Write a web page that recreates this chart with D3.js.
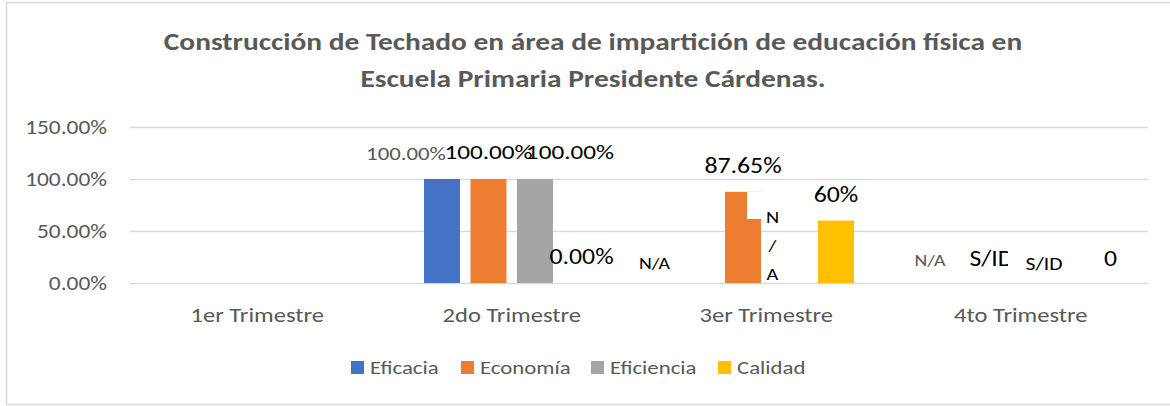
<!DOCTYPE html>
<html>
<head>
<meta charset="utf-8">
<script src="https://cdn.jsdelivr.net/npm/d3@7"></script>
<style>
  html, body { margin: 0; padding: 0; background: #fff; }
  svg { display: block; font-family: Calibri, Carlito, Lato, sans-serif; }
</style>
</head>
<body>
<svg id="chart" width="1170" height="406"></svg>
<script>
// Chart data
const titleLines = [
  "Construcción de Techado en área de impartición de educación física en",
  "Escuela Primaria Presidente Cárdenas."
];
const categories = ["1er Trimestre", "2do Trimestre", "3er Trimestre", "4to Trimestre"];
const seriesNames = ["Eficacia", "Economía", "Eficiencia", "Calidad"];
const eficacia   = [null, 1.00, null,   null];
const economia   = [null, 1.00, 0.8765, null];
const eficiencia = [null, 1.00, null,   null];
const calidad    = [null, 0.00, 0.60,   0.00];
const eficaciaLabels   = ["", "100.00%", "N/A",    "N/A"];
const economiaLabels   = ["", "100.00%", "87.65%", "S/ID"];
const eficienciaLabels = ["", "100.00%", "N/A",    "S/ID"];
const calidadLabels    = ["", "0.00%",   "60%",    "0"];
const yTicks = [0, 0.5, 1.0, 1.5];

const colors = ["#4472c4", "#ed7d31", "#a5a5a5", "#ffc000"];
const seriesValues = [eficacia, economia, eficiencia, calidad];
const seriesLabels = [eficaciaLabels, economiaLabels, eficienciaLabels, calidadLabels];

// Horizontal widening applied to every text (the face used is narrower than Calibri)
const textStretch = 1.2;

// Hand-placed data labels: offset from bar centre (dx) and baseline (y), font size, colour
const labelStyle = [
  [null, {dx: -36, y: 160, fs: 19, c: "#595959"}, {dx: -42, y: 269, fs: 16.5, c: "#000"}, {dx: -21, y: 266, fs: 16.5, c: "#595959"}],
  [null, {dx: 0,   y: 159, fs: 21, c: "#000"},    {dx: 0,   y: 173, fs: 21.5, c: "#000"}, {dx: -6, y: 266, fs: 21.5, c: "#000", clipRight: 1008}],
  [null, {dx: 35,  y: 159, fs: 21, c: "#000"},    {dx: -17, y: 223, fs: 17, c: "#000", stacked: true, box: {x0: 747, x1: 762, y0: 192, y1: 219}}, {dx: 0, y: 270, fs: 18, c: "#000"}],
  [null, {dx: 0,   y: 264, fs: 21.5, c: "#000"},  {dx: 0,   y: 202, fs: 21.5, c: "#000"}, {dx: 20, y: 266, fs: 21.5, c: "#000"}]
];

const svg = d3.select("#chart");
const gray = "#595959";
const grid = "#d9d9d9";

// Chart frame
svg.append("rect")
  .attr("x", 6.5).attr("y", 2.5)
  .attr("width", 1200).attr("height", 402)
  .attr("fill", "#fff").attr("stroke", grid).attr("stroke-width", 1.5);

// Title
svg.append("g").selectAll("text").data(titleLines).join("text")
  .attr("x", 593).attr("y", (d, i) => 50 + i * 37)
  .attr("text-anchor", "middle")
  .attr("font-size", 24.5).attr("font-weight", "bold")
  .attr("fill", gray)
  .text(d => d);

// Scales
const x = d3.scaleBand().domain(categories).range([130, 1148]);
const xs = d3.scaleBand().domain(seriesNames).range([-87.75, 87.75]).paddingInner(10.5 / 46.5);
const y = d3.scaleLinear().domain([0, 1.5]).range([283, 127]);

// Gridlines
svg.append("g").selectAll("line").data(yTicks).join("line")
  .attr("x1", 130).attr("x2", 1148)
  .attr("y1", d => Math.round(y(d)) + 0.5).attr("y2", d => Math.round(y(d)) + 0.5)
  .attr("stroke", grid).attr("stroke-width", 1.5);

// Y axis labels
const yAxis = svg.append("g")
  .attr("transform", "translate(107,0)")
  .call(d3.axisLeft(y).tickValues(yTicks).tickFormat(d3.format(".2%")).tickSize(0).tickPadding(0));
yAxis.select(".domain").remove();
yAxis.selectAll("text")
  .attr("font-family", "Calibri, Carlito, Lato, sans-serif")
  .attr("font-size", 19.5).attr("fill", gray);

// X axis labels
const xAxis = svg.append("g")
  .attr("transform", "translate(0,283)")
  .call(d3.axisBottom(x).tickSize(0).tickPadding(24));
xAxis.select(".domain").remove();
xAxis.selectAll("text")
  .attr("font-family", "Calibri, Carlito, Lato, sans-serif")
  .attr("font-size", 20.5).attr("fill", gray);

// Bars
const defs = svg.append("defs");
seriesValues.forEach((vals, si) => {
  const left = c => x(c) + x.bandwidth() / 2 + xs(seriesNames[si]);
  svg.append("g").selectAll("rect")
    .data(categories.map((c, i) => ({c, v: vals[i]})).filter(d => d.v !== null && d.v > 0))
    .join("rect")
    .attr("x", d => left(d.c))
    .attr("y", d => y(d.v))
    .attr("width", xs.bandwidth())
    .attr("height", d => y(0) - y(d.v))
    .attr("fill", colors[si]);
});

// Data labels
seriesLabels.forEach((labels, si) => {
  labels.forEach((txt, ci) => {
    const st = labelStyle[si][ci];
    if (!txt || !st) return;
    const cx = x(categories[ci]) + x.bandwidth() / 2 + xs(seriesNames[si]) + xs.bandwidth() / 2 + st.dx;
    if (st.box) {
      svg.append("rect")
        .attr("x", st.box.x0).attr("y", st.box.y0)
        .attr("width", st.box.x1 - st.box.x0).attr("height", st.box.y1 - st.box.y0)
        .attr("fill", "#fff");
    }
    let holder = svg;
    if (st.clipRight) {
      const id = "clip-" + si + "-" + ci;
      defs.append("clipPath").attr("id", id)
        .append("rect").attr("x", cx - 60).attr("y", st.y - 40)
        .attr("width", st.clipRight - (cx - 60)).attr("height", 60);
      holder = svg.append("g").attr("clip-path", `url(#${id})`);
    }
    const t = holder.append("text")
      .attr("text-anchor", "middle")
      .attr("font-size", st.fs).attr("fill", st.c);
    if (st.stacked) {
      t.attr("x", cx).attr("y", st.y);
      txt.replace("/", " / ").split(" ").forEach((part, k) => {
        t.append("tspan").attr("x", cx).attr("y", st.y + k * 28.5).text(part);
      });
    } else {
      t.attr("x", cx).attr("y", st.y).text(txt);
    }
  });
});

// Legend
const legendX = [351, 461, 591, 718];
const legend = svg.append("g").selectAll("g").data(seriesNames).join("g")
  .attr("transform", (d, i) => `translate(${legendX[i]},361)`);
legend.append("rect").attr("width", 13).attr("height", 13).attr("fill", (d, i) => colors[i]);
legend.append("text").attr("x", 19).attr("y", 12.5)
  .attr("font-size", 19).attr("fill", gray).text(d => d);

// Widen each text about its own anchor point
svg.selectAll("text").each(function () {
  const el = d3.select(this);
  const ax = +el.attr("x") || 0;
  const ay = +el.attr("y") || 0;
  el.attr("transform", `translate(${ax},${ay}) scale(${textStretch},1) translate(${-ax},${-ay})`);
});
</script>
</body>
</html>
